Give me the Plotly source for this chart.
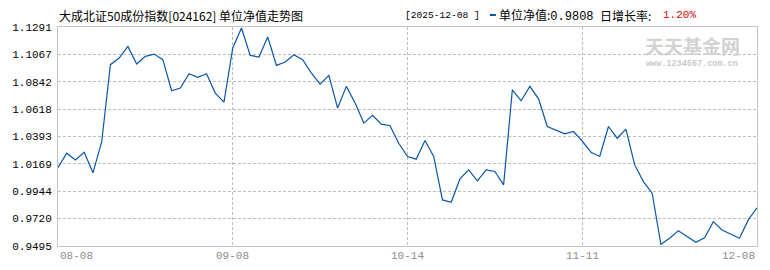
import plotly.graph_objects as go

# ---- data ----
nav_values = [
    1.0138, 1.0256, 1.0201, 1.0264, 1.0095, 1.0350, 1.0982, 1.1036, 1.1132, 1.0987,
    1.1050, 1.1069, 1.1023, 1.0768, 1.0790, 1.0908, 1.0878, 1.0908, 1.0749, 1.0675,
    1.1119, 1.1283, 1.1058, 1.1045, 1.1209, 1.0976, 1.1004, 1.1064, 1.1023, 1.0913,
    1.0823, 1.0894, 1.0626, 1.0804, 1.0667, 1.0503, 1.0566, 1.0494, 1.0481, 1.0338,
    1.0229, 1.0207, 1.0360, 1.0229, 0.9873, 0.9854, 1.0045, 1.0119, 1.0029, 1.0119,
    1.0106, 0.9996, 1.0776, 1.0686, 1.0804, 1.0702, 1.0475, 1.0448, 1.0415, 1.0434,
    1.0355, 1.0264, 1.0229, 1.0475, 1.0379, 1.0453, 1.0160, 1.0023, 0.9928, 0.9509,
    0.9558, 0.9621, 0.9572, 0.9525, 0.9563, 0.9695, 0.9626, 0.9594, 0.9558, 0.9709,
    0.9808,
]
x_index = list(range(len(nav_values)))
x_tick_pos = [0, 20, 40, 60, 80]
x_tick_labels = ["08-08", "09-08", "10-14", "11-11", "12-08"]
y_ticks = [0.9495, 0.9720, 0.9944, 1.0169, 1.0393, 1.0618, 1.0842, 1.1067, 1.1291]

title_text = "大成北证50成份指数[024162] 单位净值走势图"
last_date = "2025-12-08"
last_nav = "0.9808"
day_growth = "1.20%"

LINE = "#0a56a8"
GRID = "#bdbdbd"
FONT = "Noto Sans CJK SC"

fig = go.Figure()
fig.add_trace(go.Scatter(x=x_index, y=nav_values, mode="lines",
                         line=dict(color=LINE, width=1.2), hoverinfo="skip",
                         showlegend=False))

fig.update_layout(
    width=770, height=270,
    margin=dict(l=54, r=12, t=27, b=24),
    paper_bgcolor="white", plot_bgcolor="white",
    font=dict(family=FONT, size=12, color="black"),
    xaxis=dict(range=[0, 80], tickvals=x_tick_pos, showticklabels=False,
               showgrid=True, gridcolor=GRID, griddash="3px,2px", gridwidth=1,
               zeroline=False, showline=True, linecolor="#c4c4c4", linewidth=1,
               mirror=True, ticks=""),
    yaxis=dict(range=[y_ticks[0], y_ticks[-1]], tickvals=y_ticks,
               ticktext=[f"{v:.4f}" for v in y_ticks],
               tickfont=dict(family="Liberation Mono", size=11, color="black"),
               showgrid=True, gridcolor=GRID, griddash="3px,2px", gridwidth=1,
               zeroline=False, showline=True, linecolor="#c4c4c4", linewidth=1,
               mirror=True, ticks="", ticklabelstandoff=3),
)

anns = []
# x labels
for i, (pos, lab) in enumerate(zip(x_tick_pos, x_tick_labels)):
    anchor = "left" if i == 0 else ("right" if i == len(x_tick_pos) - 1 else "center")
    anns.append(dict(x=pos, y=0, xref="x", yref="paper", text=lab, showarrow=False,
                     xanchor=anchor, yanchor="top", yshift=-2,
                     font=dict(family="Liberation Mono", size=11, color="#8c8c8c")))

def px(p):
    return (p - 54) / 704.0

def py(p):
    return (246 - p) / 219.0

anns.append(dict(x=px(53), y=py(15), xref="paper", yref="paper", text=title_text,
                 showarrow=False, xanchor="left", yanchor="middle",
                 font=dict(family=FONT, size=12, color="black")))
anns.append(dict(x=px(401), y=py(15), xref="paper", yref="paper",
                 text=f"[{last_date} ]", showarrow=False, xanchor="left", yanchor="middle",
                 font=dict(family="Liberation Mono", size=9.6, color="black")))
anns.append(dict(x=px(496), y=py(15), xref="paper", yref="paper",
                 text=f"单位净值:<span style='font-family:Liberation Mono'>{last_nav}</span>",
                 showarrow=False, xanchor="left", yanchor="middle",
                 font=dict(family=FONT, size=12, color="black")))
anns.append(dict(x=px(598), y=py(15), xref="paper", yref="paper", text="日增长率:",
                 showarrow=False, xanchor="left", yanchor="middle",
                 font=dict(family=FONT, size=12, color="black")))
anns.append(dict(x=px(661), y=py(15), xref="paper", yref="paper", text=day_growth,
                 showarrow=False, xanchor="left", yanchor="middle",
                 font=dict(family="Liberation Mono", size=11, color="#e00000")))
# watermark
anns.append(dict(x=px(693), y=py(45), xref="paper", yref="paper", text="<b>天天基金网</b>",
                 showarrow=False, xanchor="center", yanchor="middle", borderpad=0,
                 font=dict(family=FONT, size=19, color="#d2d2d2")))
anns.append(dict(x=px(693), y=py(64), xref="paper", yref="paper",
                 text="<b>www.1234567.com.cn</b>",
                 showarrow=False, xanchor="center", yanchor="middle", borderpad=0,
                 font=dict(family="Liberation Mono", size=8.5, color="#c8c8c8")))
fig.update_layout(annotations=anns)

# legend dash next to header
fig.add_shape(type="rect", xref="paper", yref="paper",
              x0=px(489), x1=px(495), y0=py(16), y1=py(14),
              fillcolor=LINE, line=dict(width=0))

fig.write_html("out.html")
